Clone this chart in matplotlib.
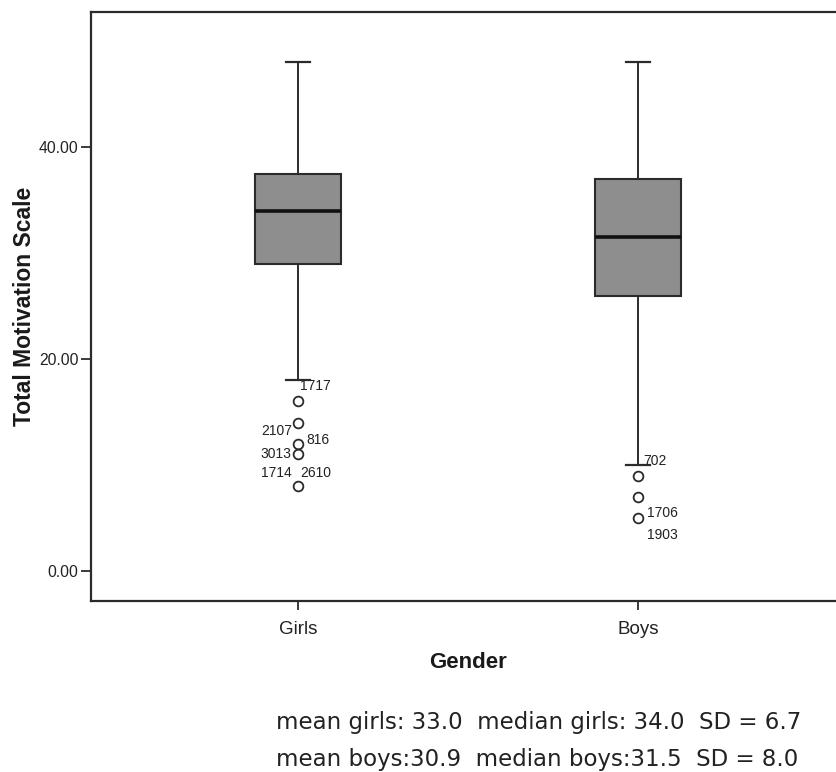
import matplotlib
matplotlib.use("Agg")
import matplotlib.pyplot as plt
from matplotlib.ticker import FormatStrFormatter

plt.rcParams['font.family'] = ['Liberation Sans', 'DejaVu Sans']

# ---- data ----
groups = ['Girls', 'Boys']
q1 = [29.0, 26.0]
medians = [34.0, 31.5]
q3 = [37.5, 37.0]
whisker_low = [18.0, 10.0]
whisker_high = [48.0, 48.0]
fliers = [[16.0, 14.0, 12.0, 11.0, 8.0], [9.0, 7.0, 5.0]]
# outlier case labels: (group index, case id, value)
label_group = [0, 0, 0, 0, 0, 0, 1, 1, 1]
label_ids = ['1717', '2107', '816', '3013', '1714', '2610', '702', '1706', '1903']
label_vals = [16.0, 14.0, 12.0, 11.0, 8.0, 8.0, 9.0, 5.0, 5.0]
y_ticks = [0, 20, 40]
stats_lines = ['mean girls: 33.0  median girls: 34.0  SD = 6.7',
               'mean boys:30.9  median boys:31.5  SD = 8.0']

# label placement (pixel offsets from the point; ha)
label_dx = [2, -6, 8, -7, -6, 2, 5, 9, 9]
label_dy = [15, -8, 4, 0, 13, 13, 15, 5, -17]
label_ha = ['left', 'right', 'left', 'right', 'right', 'left', 'left', 'left', 'left']

W, H = 837, 772
fig = plt.figure(figsize=(W / 100, H / 100), dpi=100)
ax = fig.add_axes([91 / W, (H - 601) / H, (845 - 91) / W, (601 - 12) / H])

dark = '#2b2b2b'
positions = [1, 2]
stats = []
for i in range(len(groups)):
    stats.append(dict(med=medians[i], q1=q1[i], q3=q3[i],
                      whislo=whisker_low[i], whishi=whisker_high[i],
                      fliers=fliers[i], label=groups[i]))

ax.bxp(stats, positions=positions, widths=0.253, capwidths=0.068,
       patch_artist=True, showfliers=True,
       boxprops=dict(facecolor='#8e8e8e', edgecolor=dark, linewidth=1.5),
       medianprops=dict(color='#111111', linewidth=2.6),
       whiskerprops=dict(color=dark, linewidth=1.4),
       capprops=dict(color=dark, linewidth=1.6),
       flierprops=dict(marker='o', markerfacecolor='none',
                       markeredgecolor=dark, markersize=7, markeredgewidth=1.3))

for g, lid, v, dx, dy, ha in zip(label_group, label_ids, label_vals,
                                  label_dx, label_dy, label_ha):
    ax.annotate(lid, xy=(positions[g], v), xytext=(dx * 0.72, dy * 0.72),
                textcoords='offset points', ha=ha, va='center',
                fontsize=10, color='#222222')

ax.set_xlim(0.391, 2.609)
ax.set_ylim(-2.83, 52.76)
ax.set_xticks(positions)
ax.set_xticklabels(groups, fontsize=13.5, color='#222222')
ax.set_yticks(y_ticks)
ax.yaxis.set_major_formatter(FormatStrFormatter('%.2f'))
ax.tick_params(axis='y', labelsize=11.3, length=7, width=1.3, color=dark, pad=2,
               labelcolor='#222222')
ax.tick_params(axis='x', length=6.5, width=1.3, color=dark, pad=8)

for s in ['left', 'bottom', 'top']:
    ax.spines[s].set_linewidth(1.6)
    ax.spines[s].set_color(dark)
ax.spines['right'].set_visible(False)

ax.set_ylabel('Total Motivation Scale', fontsize=16.5, fontweight='bold',
              color='#1a1a1a', labelpad=2)
ax.set_xlabel('Gender', fontsize=16, fontweight='bold', color='#1a1a1a',
              labelpad=10)

fig.text(276 / W, 1 - 729 / H, stats_lines[0], fontsize=16.5,
         family='DejaVu Sans', va='baseline', ha='left', color='#222222')
fig.text(276 / W, 1 - 766 / H, stats_lines[1], fontsize=16.5,
         family='DejaVu Sans', va='baseline', ha='left', color='#222222')

fig.savefig('out.png', dpi=100)
